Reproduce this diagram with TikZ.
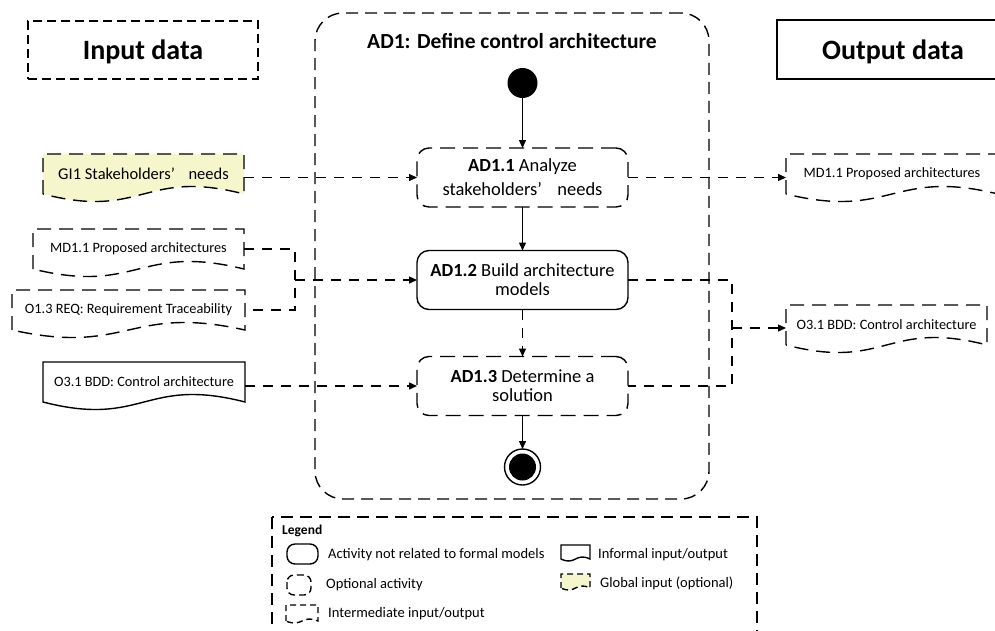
\documentclass[tikz,border=0pt]{standalone}
\usepackage{fontspec}
\setmainfont{Carlito}
\usetikzlibrary{arrows.meta,calc,backgrounds}
\definecolor{gy}{RGB}{246,246,204}
\tikzset{
  lw/.style={line width=1.4pt},
  dsh/.style={dash pattern=on 10pt off 8pt},
  ddoc/.style={lw, dash pattern=on 14pt off 8pt},
  dact/.style={dash pattern=on 15pt off 8pt},
  conn/.style={lw, dsh},
  tip/.style={-{Triangle[length=8pt,width=7pt]}},
  act/.style={draw, lw, rounded corners=12pt, minimum width=211pt, minimum height=59pt,
    align=center, inner sep=2pt, outer sep=0pt, font=\fontsize{18.5}{19}\selectfont},
  doc/.style={minimum width=#1, minimum height=40pt, inner sep=2pt, outer sep=0pt,
    font=\fontsize{14.3}{16}\selectfont},
  lgtext/.style={anchor=west, inner sep=0pt, font=\fontsize{14.5}{16}\selectfont},
}
\newcommand\docout[2]{%
  \begin{pgfonlayer}{background}
  \draw[#1] (#2.south west) -- (#2.north west) -- (#2.north east) -- (#2.south east)
    .. controls ($(#2.south)+(0,-26)$) and ($(#2.south)+(0,26)$) .. (#2.south west) -- cycle;
  \end{pgfonlayer}}
\begin{document}
\begin{tikzpicture}[x=1pt,y=-1pt]
\useasboundingbox (0,0) rectangle (995,630);
\clip (0,0) rectangle (995,630);

% header boxes
\node[draw, lw, dash pattern=on 9pt off 5pt, minimum width=230pt, minimum height=58pt, text depth=0pt,
  font=\bfseries\fontsize{28}{30}\selectfont] (inbox) at (143,50) {Input data};
\node[draw, lw, minimum width=232pt, minimum height=59pt, text depth=0pt,
  font=\bfseries\fontsize{28}{30}\selectfont] (outbox) at (893,49.5) {Output data};

% container
\node[draw, lw, dash pattern=on 12pt off 7pt, rounded corners=28pt,
  minimum width=394pt, minimum height=486pt] (frame) at (512,256) {};
\node[anchor=base, inner sep=0pt, font=\bfseries\fontsize{21.5}{24}\selectfont]
  (title) at (512,48) {AD1: Define control architecture};

% activities
\node[circle, fill, minimum size=30pt, inner sep=0pt, outer sep=0pt] (start) at (522.5,83) {};
\node[act, dact, font=\fontsize{18.5}{24}\selectfont] (ad11) at (522.5,177.5)
  {\textbf{AD1.1} Analyze\\stakeholders’\hspace{0.6em} needs};
\node[act] (ad12) at (522.5,280) {\textbf{AD1.2} Build architecture\\models};
\node[act, dact] (ad13) at (522.5,386) {\textbf{AD1.3} Determine a\\solution};
\node[circle, draw, lw, minimum size=36pt, inner sep=0pt, outer sep=0pt] (end) at (522.5,467) {};
\fill (end.center) circle[radius=13.5pt];

% documents
\node[doc=201pt, font=\fontsize{16.5}{18}\selectfont] (gi1) at (143.5,174)
  {GI1 Stakeholders’\hspace{0.6em} needs};
\docout{ddoc, fill=gy}{gi1}
\node[doc=211pt] (md11in) at (138.5,249) {MD1.1 Proposed architectures};
\docout{ddoc}{md11in}
\node[doc=233pt] (o13in) at (128.5,310) {O1.3 REQ: Requirement Traceability};
\docout{ddoc}{o13in}
\node[doc=202pt] (o31in) at (144,382) {O3.1 BDD: Control architecture};
\docout{lw}{o31in}
\node[doc=212pt] (md11out) at (892,174) {MD1.1 Proposed architectures};
\docout{ddoc}{md11out}
\node[doc=201pt] (o31out) at (886.5,325) {O3.1 BDD: Control architecture};
\docout{ddoc}{o31out}

% flow
\draw[lw,tip] (start) -- (ad11);
\draw[lw,tip] (ad11) -- (ad12);
\draw[conn,tip] (ad12) -- (ad13);
\draw[lw,tip] (ad13) -- (end);

% inputs
\draw[conn,tip] (gi1.east |- ad11.west) -- (ad11.west);
\coordinate (jL) at (295,280);
\draw[conn] (md11in.east) -| (jL) |- (o13in.east);
\draw[conn,tip] (jL) -- (ad12.west);
\draw[conn,tip] (o31in.east |- ad13.west) -- (ad13.west);

% outputs
\draw[conn,tip] (ad11.east) -- (ad11.east -| md11out.west);
\coordinate (jR) at (732,328);
\draw[conn] (ad12.east) -| (jR) |- (ad13.east);
\draw[conn,tip] (jR) -- (jR -| o31out.west);

% legend
\draw[lw, dash pattern=on 12pt off 7pt] (272,517) rectangle (757,660);
\node[anchor=west, inner sep=0pt, font=\bfseries\fontsize{13.5}{15}\selectfont] (lg) at (282,531) {Legend};
\draw[lw, rounded corners=8pt] (287,544) rectangle (318,564);
\node[lgtext] (l1) at (328,555) {Activity not related to formal models};
\draw[lw, dash pattern=on 7pt off 4pt, rounded corners=7pt] (287,575) rectangle (311,595);
\node[lgtext] (l2) at (326,585) {Optional activity};
\draw[lw, dash pattern=on 6pt off 4pt] (286,621) -- (286,605) -- (318,605) -- (318,621)
  .. controls (302,614) and (302,628) .. (286,621) -- cycle;
\node[lgtext] (l3) at (328,614) {Intermediate input/output};
\draw[lw] (561,559) -- (561,545) -- (590,545) -- (590,559)
  .. controls (575.5,552) and (575.5,566) .. (561,559) -- cycle;
\node[lgtext] (l4) at (598,555) {Informal input/output};
\draw[lw, dash pattern=on 6pt off 4pt, fill=gy] (561,588) -- (561,574) -- (590,574) -- (590,588)
  .. controls (575.5,581) and (575.5,595) .. (561,588) -- cycle;
\node[lgtext] (l5) at (600,583) {Global input (optional)};
\end{tikzpicture}
\end{document}
